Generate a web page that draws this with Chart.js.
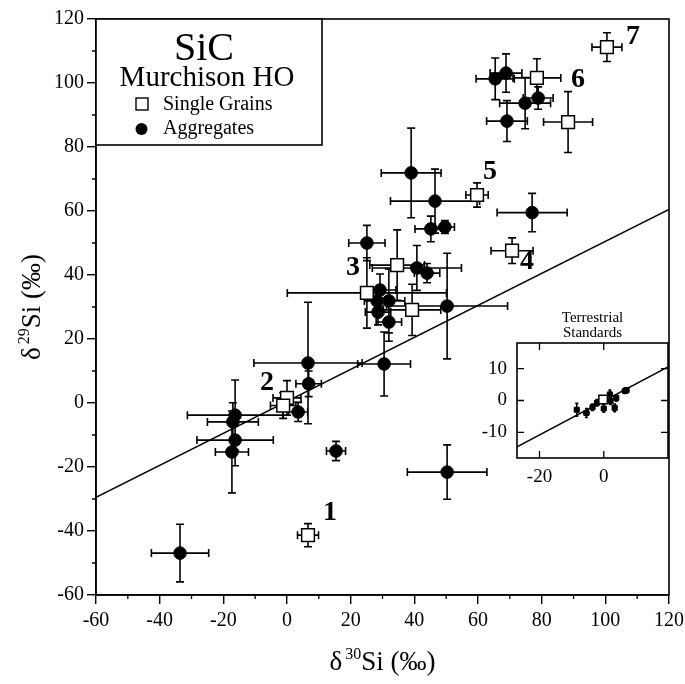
<!DOCTYPE html>
<html><head><meta charset="utf-8">
<script src="https://cdn.jsdelivr.net/npm/chart.js@4"></script>
<style>
html,body{margin:0;padding:0;background:#fff;}
#wrap{position:relative;width:685px;height:684px;}
#main{position:absolute;left:0;top:0;}
#inset{position:absolute;left:460px;top:300px;}
</style></head><body>
<div id="wrap"><canvas id="main" width="685" height="684"></canvas><canvas id="inset" width="225" height="200"></canvas></div>
<script>
// ---- data ----
const singleX    = [100.5, 78.5, 88.3, 59.7, 70.7, 34.6, 25.1, 39.3, 0.0, -1.2, 6.6];
const singleY    = [111.2, 101.6, 87.8, 65.0, 47.6, 43.1, 34.4, 29.1, 1.6, -0.8, -41.3];
const singleXErr = [4.7, 7.5, 7.7, 3.5, 6.6, 8.6, 25, 9, 4.4, 4, 3.3];
const singleYErr = [4.5, 6, 9.5, 3.8, 4, 11, 11, 8, 5.4, 4, 3.6];

const aggX    = [65.4, 68.8, 74.8, 78.9, 69.1, 39.0, 46.5, 45.2, 49.6, 25.1, 40.8, 44.0, 50.3, 29.2, 28.3, 32.0, 28.6, 32.0, 6.6, 30.5, 6.8, 3.5, -16.3, -17.0, -16.3, -17.3, -33.6, 15.4, 50.3, 77.0];
const aggY    = [101.3, 103.1, 93.7, 95.3, 88.1, 71.9, 63.1, 54.4, 55.0, 50.0, 42.2, 40.6, 30.3, 35.3, 31.9, 31.9, 28.4, 25.3, 12.5, 12.2, 6.0, -2.8, -3.8, -5.9, -11.6, -15.3, -46.9, -15.0, -21.6, 59.5];
const aggXErr = [6, 5, 8, 4.7, 6.4, 9.4, 14, 5, 3, 5.7, 14, 4, 19, 5, 4, 5, 4, 4, 17, 8.3, 4, 3, 15, 8, 12, 5.2, 9, 3, 12.5, 11];
const aggYErr = [6.5, 6, 8, 3.5, 6.4, 14, 10, 4, 2, 5.5, 7, 3, 16.5, 5, 4, 10, 4, 6, 19, 10, 4, 3, 11, 6, 8, 12.8, 9, 3, 8.5, 6];

const lineX = [-60, 120];
const lineY = [-29.5, 60.5];

const groupNames = ['1', '2', '3', '4', '5', '6', '7'];
const groupX     = [13.5, -6.3, 20.7, 75.4, 63.8, 91.4, 108.7];
const groupY     = [-34.4, 6.3, 42.2, 44.0, 72.2, 100.9, 114.4];

const xMajor = [-60, -40, -20, 0, 20, 40, 60, 80, 100, 120];
const yMajor = [-60, -40, -20, 0, 20, 40, 60, 80, 100, 120];
const xMinor = [-50, -30, -10, 10, 30, 50, 70, 90, 110];
const yMinor = [-50, -30, -10, 10, 30, 50, 70, 90, 110];

// inset: terrestrial standards
const stdX    = [-8.4, -5.4, -3.5, -2.1, 0.0, 1.9, 2.1, 3.4, 3.9, 6.6, 7.1];
const stdY    = [-2.9, -3.9, -2.1, -0.7, -2.5, 1.9, -0.2, -2.3, 0.8, 3.0, 3.2];
const stdXErr = [0.6, 0.8, 0.6, 0.6, 0.6, 0.6, 0.6, 0.6, 0.6, 0.8, 0.6];
const stdYErr = [2.0, 1.4, 1.0, 1.0, 1.2, 1.4, 1.0, 1.2, 1.0, 0.8, 0.8];
const stdOpenX = [-0.2];
const stdOpenY = [0.3];
const insetLineX = [-27, 20];
const insetLineY = [-14.5, 10.5];
const insetXTicks = [-20, 0];
const insetYTicks = [-10, 0, 10];

const SERIF = '"Liberation Serif", "DejaVu Serif", serif';

function pts(xs, ys) { return xs.map((x, i) => ({x: x, y: ys[i]})); }

function drawErrBars(ctx, sx, sy, xs, ys, xe, ye, cap, lw) {
  ctx.save();
  ctx.strokeStyle = '#000';
  ctx.lineWidth = lw;
  ctx.beginPath();
  for (let i = 0; i < xs.length; i++) {
    const px = sx.getPixelForValue(xs[i]);
    const py = sy.getPixelForValue(ys[i]);
    const x1 = sx.getPixelForValue(xs[i] - xe[i]);
    const x2 = sx.getPixelForValue(xs[i] + xe[i]);
    const y1 = sy.getPixelForValue(ys[i] - ye[i]);
    const y2 = sy.getPixelForValue(ys[i] + ye[i]);
    ctx.moveTo(x1, py); ctx.lineTo(x2, py);
    ctx.moveTo(px, y1); ctx.lineTo(px, y2);
    ctx.moveTo(x1, py - cap); ctx.lineTo(x1, py + cap);
    ctx.moveTo(x2, py - cap); ctx.lineTo(x2, py + cap);
    ctx.moveTo(px - cap, y1); ctx.lineTo(px + cap, y1);
    ctx.moveTo(px - cap, y2); ctx.lineTo(px + cap, y2);
  }
  ctx.stroke();
  ctx.restore();
}

function drawParts(ctx, parts, x, y) {
  let total = 0;
  parts.forEach(p => { ctx.font = p.font; p.w = ctx.measureText(p.t).width + (p.gap || 0); total += p.w; });
  let cx = x - total / 2;
  ctx.textAlign = 'left';
  ctx.textBaseline = 'alphabetic';
  parts.forEach(p => { ctx.font = p.font; ctx.fillText(p.t, cx, y - (p.rise || 0)); cx += p.w; });
}

const mainDecor = {
  id: 'mainDecor',
  beforeDatasetsDraw(chart) {
    const ctx = chart.ctx, sx = chart.scales.x, sy = chart.scales.y;
    const a = chart.chartArea;
    ctx.save();
    ctx.beginPath(); ctx.rect(a.left, a.top, a.right - a.left, a.bottom - a.top); ctx.clip();
    drawErrBars(ctx, sx, sy, aggX, aggY, aggXErr, aggYErr, 4, 1.6);
    drawErrBars(ctx, sx, sy, singleX, singleY, singleXErr, singleYErr, 4, 1.6);
    ctx.restore();
  },
  afterDraw(chart) {
    const ctx = chart.ctx, sx = chart.scales.x, sy = chart.scales.y;
    const a = chart.chartArea;
    ctx.save();
    ctx.strokeStyle = '#000';
    ctx.fillStyle = '#000';
    ctx.lineWidth = 1.6;
    ctx.strokeRect(a.left, a.top, a.right - a.left, a.bottom - a.top);
    ctx.lineWidth = 1.3;
    ctx.beginPath();
    xMinor.forEach(v => { const p = sx.getPixelForValue(v); ctx.moveTo(p, a.bottom); ctx.lineTo(p, a.bottom + 4); });
    yMinor.forEach(v => { const p = sy.getPixelForValue(v); ctx.moveTo(a.left, p); ctx.lineTo(a.left - 4, p); });
    ctx.stroke();
    // legend box
    const bx = a.left, by = a.top, bw = 226, bh = 126;
    ctx.fillStyle = '#fff';
    ctx.fillRect(bx, by, bw, bh);
    ctx.lineWidth = 1.6;
    ctx.strokeRect(bx, by, bw, bh);
    ctx.fillStyle = '#000';
    ctx.textAlign = 'center';
    ctx.textBaseline = 'alphabetic';
    ctx.font = '40px ' + SERIF;
    ctx.fillText('SiC', bx + 108, by + 41);
    ctx.font = '29px ' + SERIF;
    ctx.fillText('Murchison HO', bx + 111, by + 67);
    ctx.textAlign = 'left';
    ctx.font = '20px ' + SERIF;
    ctx.fillText('Single Grains', bx + 67, by + 91);
    ctx.fillText('Aggregates', bx + 67, by + 115);
    ctx.lineWidth = 1.4;
    ctx.strokeRect(bx + 40, by + 79, 12, 12);
    ctx.beginPath(); ctx.arc(bx + 45.5, by + 110, 6, 0, Math.PI * 2); ctx.fill();
    // group labels
    ctx.font = 'bold 28px ' + SERIF;
    ctx.textAlign = 'center';
    ctx.textBaseline = 'middle';
    groupNames.forEach((n, i) => ctx.fillText(n, sx.getPixelForValue(groupX[i]), sy.getPixelForValue(groupY[i])));
    // axis titles
    const big = '27px ' + SERIF, small = '16px ' + SERIF;
    drawParts(ctx, [
      {t: '\u03B4', font: big, gap: 3},
      {t: '30', font: small, rise: 11},
      {t: 'Si (\u2030)', font: big}
    ], (a.left + a.right) / 2, 670);
    ctx.save();
    ctx.translate(40, (a.top + a.bottom) / 2);
    ctx.rotate(-Math.PI / 2);
    drawParts(ctx, [
      {t: '\u03B4', font: big, gap: 3},
      {t: '29', font: small, rise: 11},
      {t: 'Si (\u2030)', font: big}
    ], 0, 0);
    ctx.restore();
    ctx.restore();
  }
};

const axisCommon = {
  type: 'linear',
  min: -60, max: 120,
  ticks: { stepSize: 20, color: '#000', font: { family: SERIF, size: 20 }, maxRotation: 0, autoSkip: false },
  grid: { drawOnChartArea: false, drawTicks: true, tickLength: 9, color: '#000', lineWidth: 1.4 },
  border: { display: true, color: '#000', width: 1.6 }
};

new Chart(document.getElementById('main'), {
  type: 'scatter',
  data: {
    datasets: [
      { label: 'Single Grains', data: pts(singleX, singleY), pointStyle: 'rect', radius: 9, borderColor: '#000', backgroundColor: '#fff', borderWidth: 1.5 },
      { label: 'Aggregates', data: pts(aggX, aggY), pointStyle: 'circle', radius: 6.3, borderColor: '#000', backgroundColor: '#000', borderWidth: 1 },
      { label: 'line', type: 'line', data: pts(lineX, lineY), showLine: true, pointRadius: 0, borderColor: '#000', borderWidth: 1.6, fill: false }
    ]
  },
  options: {
    responsive: false, animation: false, devicePixelRatio: 1,
    layout: { padding: { left: 0, top: 19, right: 16, bottom: 0 } },
    plugins: { legend: { display: false }, tooltip: { enabled: false } },
    scales: {
      x: Object.assign({}, axisCommon, {
        ticks: Object.assign({}, axisCommon.ticks, { padding: 5 }),
        afterBuildTicks: s => { s.ticks = xMajor.map(v => ({value: v})); },
        afterFit: s => { s.height = 89; s.paddingRight = 0; }
      }),
      y: Object.assign({}, axisCommon, {
        ticks: Object.assign({}, axisCommon.ticks, { padding: 3 }),
        afterBuildTicks: s => { s.ticks = yMajor.map(v => ({value: v})); },
        afterFit: s => { s.width = 96; s.paddingTop = 0; s.paddingBottom = 0; }
      })
    }
  },
  plugins: [mainDecor]
});

const insetDecor = {
  id: 'insetDecor',
  beforeDraw(chart) {
    const ctx = chart.ctx, a = chart.chartArea;
    ctx.save();
    ctx.fillStyle = '#fff';
    ctx.fillRect(a.left, a.top, a.right - a.left, a.bottom - a.top);
    ctx.restore();
  },
  beforeDatasetsDraw(chart) {
    const ctx = chart.ctx, a = chart.chartArea;
    ctx.save();
    ctx.beginPath(); ctx.rect(a.left, a.top, a.right - a.left, a.bottom - a.top); ctx.clip();
    drawErrBars(ctx, chart.scales.x, chart.scales.y, stdX, stdY, stdXErr, stdYErr, 1.5, 1.6);
    ctx.restore();
  },
  afterDraw(chart) {
    const ctx = chart.ctx, a = chart.chartArea, sx = chart.scales.x, sy = chart.scales.y;
    ctx.save();
    ctx.strokeStyle = '#000';
    ctx.fillStyle = '#000';
    ctx.lineWidth = 1.6;
    ctx.strokeRect(a.left, a.top, a.right - a.left, a.bottom - a.top);
    ctx.lineWidth = 1.3;
    ctx.beginPath();
    insetXTicks.forEach(v => { const p = sx.getPixelForValue(v);
      ctx.moveTo(p, a.bottom); ctx.lineTo(p, a.bottom - 7);
      ctx.moveTo(p, a.top); ctx.lineTo(p, a.top + 7); });
    insetYTicks.forEach(v => { const p = sy.getPixelForValue(v);
      ctx.moveTo(a.left, p); ctx.lineTo(a.left + 7, p);
      ctx.moveTo(a.right, p); ctx.lineTo(a.right - 7, p); });
    ctx.stroke();
    ctx.font = '15px ' + SERIF;
    ctx.textAlign = 'center';
    ctx.textBaseline = 'alphabetic';
    const cx = (a.left + a.right) / 2;
    ctx.fillText('Terrestrial', cx, a.top - 21);
    ctx.fillText('Standards', cx, a.top - 6);
    ctx.restore();
  }
};

new Chart(document.getElementById('inset'), {
  type: 'scatter',
  data: {
    datasets: [
      { label: 'open', data: pts(stdOpenX, stdOpenY), pointStyle: 'rect', radius: 6, borderColor: '#000', backgroundColor: '#fff', borderWidth: 1.5 },
      { label: 'std', data: pts(stdX, stdY), pointStyle: 'rect', radius: 3.6, borderColor: '#000', backgroundColor: '#000', borderWidth: 1 },
      { label: 'line', type: 'line', data: pts(insetLineX, insetLineY), showLine: true, pointRadius: 0, borderColor: '#000', borderWidth: 1.6, fill: false }
    ]
  },
  options: {
    responsive: false, animation: false, devicePixelRatio: 1,
    layout: { padding: { left: 0, top: 43, right: 17, bottom: 0 } },
    plugins: { legend: { display: false }, tooltip: { enabled: false } },
    scales: {
      x: { type: 'linear', min: -27, max: 20,
        ticks: { color: '#000', font: { family: SERIF, size: 19 }, padding: 0, maxRotation: 0, autoSkip: false },
        grid: { display: false }, border: { display: false },
        afterBuildTicks: s => { s.ticks = insetXTicks.map(v => ({value: v})); },
        afterFit: s => { s.height = 42; } },
      y: { type: 'linear', min: -18, max: 18,
        ticks: { color: '#000', font: { family: SERIF, size: 19 }, padding: 2, autoSkip: false },
        grid: { display: false }, border: { display: false },
        afterBuildTicks: s => { s.ticks = insetYTicks.map(v => ({value: v})); },
        afterFit: s => { s.width = 57; } }
    }
  },
  plugins: [insetDecor]
});
</script>
</body></html>
